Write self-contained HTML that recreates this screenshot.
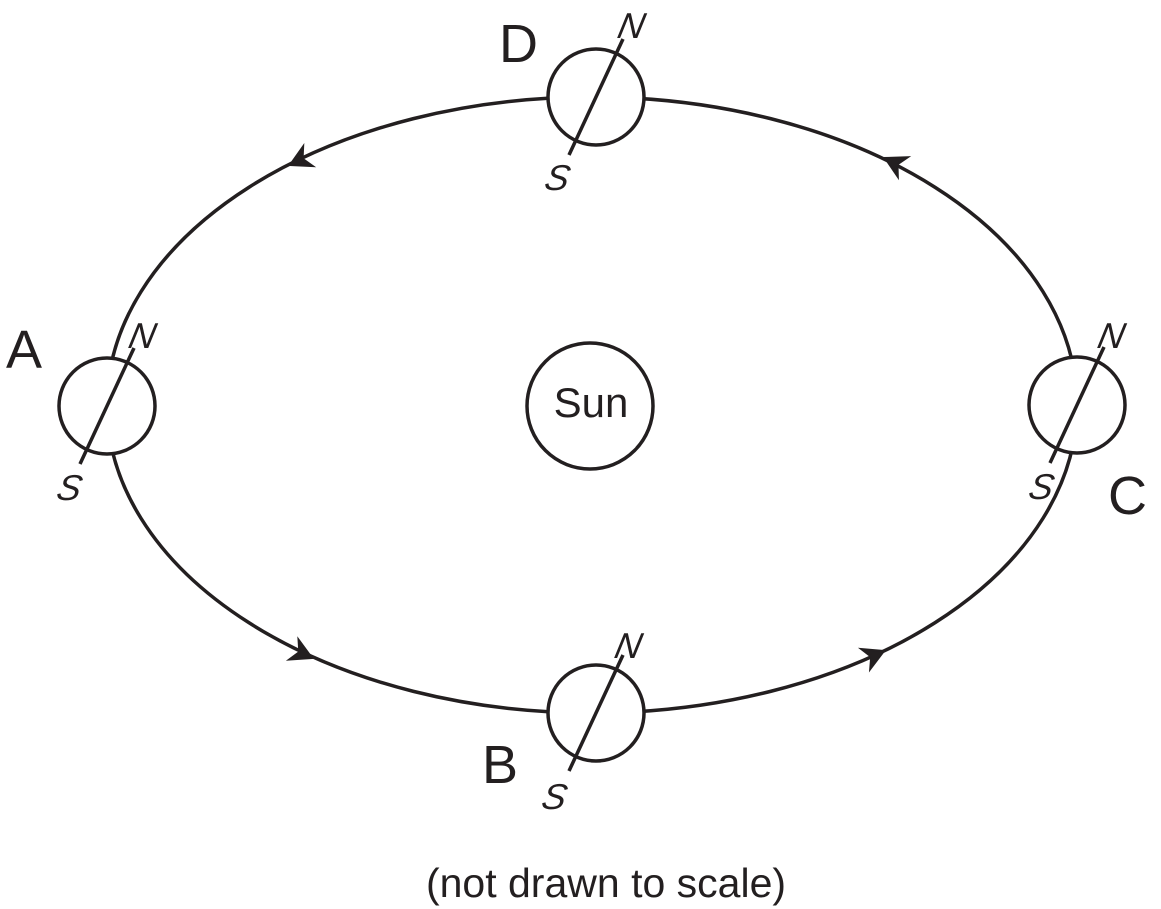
<!DOCTYPE html>
<html><head><style>
html,body{margin:0;padding:0;background:#fff;}
svg{display:block;}
text{font-family:"Liberation Sans",Arial,sans-serif;fill:#231f20;}
</style></head><body>
<svg width="1161" height="909" viewBox="0 0 1161 909" xmlns="http://www.w3.org/2000/svg">
<ellipse cx="592" cy="405" rx="485" ry="308" fill="none" stroke="#231f20" stroke-width="3.5"/>
<defs>
<path id="ah" d="M0,0 L-20,-11 L-14,0 L-20,11 Z" fill="#231f20" stroke="#231f20" stroke-width="2" stroke-linejoin="miter"/>
<g id="pl">
<circle cx="0" cy="0" r="48" fill="#fff" stroke="#231f20" stroke-width="3.5"/>
<line x1="-27" y1="58" x2="27" y2="-58" stroke="#231f20" stroke-width="3.5"/>
</g>
</defs>
<use href="#ah" transform="translate(290,165) rotate(154)"/>
<use href="#ah" transform="translate(885,158) rotate(-153)"/>
<use href="#ah" transform="translate(312,658) rotate(25)"/>
<use href="#ah" transform="translate(884,651) rotate(-24)"/>
<use href="#pl" transform="translate(107,406)"/>
<use href="#pl" transform="translate(596,97)"/>
<use href="#pl" transform="translate(1077,405)"/>
<use href="#pl" transform="translate(596,713)"/>
<circle cx="590" cy="406" r="63" fill="#fff" stroke="#231f20" stroke-width="3.5"/>
<text x="591" y="417" font-size="42" text-anchor="middle">Sun</text>
<text x="6" y="368" font-size="54">A</text>
<text x="499" y="62" font-size="54">D</text>
<text x="1108" y="514" font-size="54">C</text>
<text x="482" y="783" font-size="54">B</text>
<g font-size="36" font-style="italic">
<text transform="translate(127,348) skewX(-12)">N</text><text transform="translate(55,500) skewX(-12)">S</text>
<text transform="translate(616,38) skewX(-12)">N</text><text transform="translate(543,190) skewX(-12)">S</text>
<text transform="translate(1096,348) skewX(-12)">N</text><text transform="translate(1027,499) skewX(-12)">S</text>
<text transform="translate(613,658) skewX(-12)">N</text><text transform="translate(540,809) skewX(-12)">S</text>
</g>
<text x="606" y="897" font-size="41" text-anchor="middle">(not drawn to scale)</text>
</svg>
</body></html>
